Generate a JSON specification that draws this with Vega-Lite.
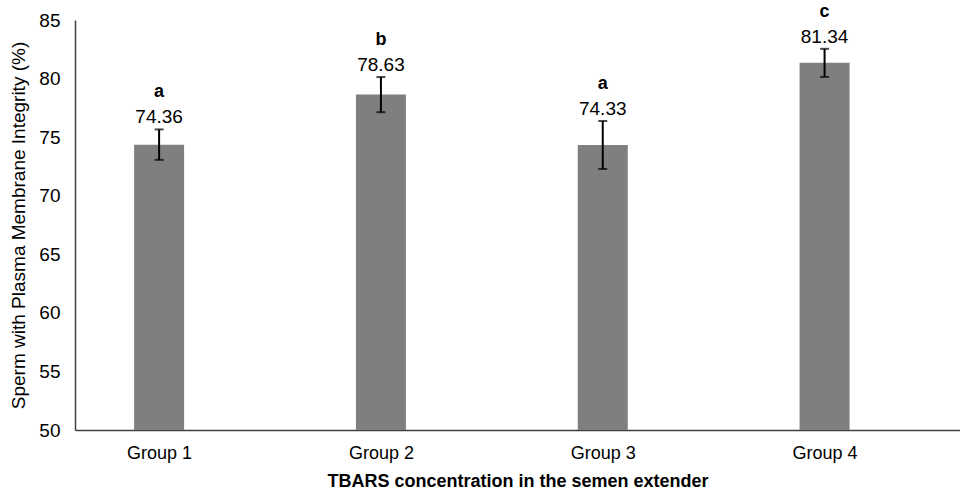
{
  "$schema": "https://vega.github.io/schema/vega-lite/v6.json",
  "width": 885,
  "height": 410,
  "autosize": {"type": "none"},
  "padding": {"left": 75, "top": 20, "right": 0, "bottom": 61},
  "background": "white",
  "config": {"view": {"stroke": null}, "font": "Liberation Sans"},
  "data": {
    "values": [
      {"group": "Group 1", "idx": 1, "mean": 74.36, "sd": 1.3, "sig": "a"},
      {"group": "Group 2", "idx": 2, "mean": 78.63, "sd": 1.5, "sig": "b"},
      {"group": "Group 3", "idx": 3, "mean": 74.33, "sd": 2.05, "sig": "a"},
      {"group": "Group 4", "idx": 4, "mean": 81.34, "sd": 1.2, "sig": "c"}
    ]
  },
  "transform": [
    {"calculate": "datum.mean + datum.sd", "as": "upper"},
    {"calculate": "datum.mean - datum.sd", "as": "lower"}
  ],
  "encoding": {
    "x": {
      "field": "idx",
      "type": "quantitative",
      "scale": {"domain": [0.6434, 4.588], "nice": false, "zero": false},
      "axis": {
        "values": [1, 2, 3, 4],
        "labelExpr": "'Group ' + datum.value",
        "ticks": false,
        "grid": false,
        "domainColor": "#404040",
        "domainWidth": 1.5,
        "labelFontSize": 18,
        "labelColor": "#000",
        "labelPadding": 14,
        "title": "TBARS concentration in the semen extender",
        "titleFontSize": 18,
        "titleFontWeight": "bold",
        "titleColor": "#000",
        "titlePadding": 10
      }
    }
  },
  "layer": [
    {
      "mark": {"type": "bar", "color": "#7f7f7f", "size": 50},
      "encoding": {
        "y": {
          "field": "mean",
          "type": "quantitative",
          "scale": {"domain": [50, 85], "nice": false, "zero": false},
          "axis": {
            "values": [50, 55, 60, 65, 70, 75, 80, 85],
            "ticks": false,
            "grid": false,
            "domainColor": "#404040",
            "domainWidth": 1.5,
            "labelFontSize": 19,
            "labelColor": "#000",
            "labelPadding": 15,
            "title": "Sperm  with Plasma Membrane Integrity (%)",
            "titleFontSize": 19,
            "titleFontWeight": "normal",
            "titleColor": "#000",
            "titlePadding": 10
          }
        },
        "y2": {"datum": 50}
      }
    },
    {
      "mark": {"type": "rule", "color": "black", "strokeWidth": 2},
      "encoding": {
        "y": {"field": "lower", "type": "quantitative"},
        "y2": {"field": "upper"}
      }
    },
    {
      "mark": {"type": "tick", "orient": "horizontal", "color": "black", "thickness": 2, "size": 9},
      "encoding": {"y": {"field": "lower", "type": "quantitative"}}
    },
    {
      "mark": {"type": "tick", "orient": "horizontal", "color": "black", "thickness": 2, "size": 9},
      "encoding": {"y": {"field": "upper", "type": "quantitative"}}
    },
    {
      "mark": {"type": "text", "dy": -6, "baseline": "alphabetic", "fontSize": 19, "color": "#000"},
      "encoding": {
        "y": {"field": "upper", "type": "quantitative"},
        "text": {"field": "mean", "type": "quantitative", "format": ".2f"}
      }
    },
    {
      "mark": {"type": "text", "dy": -32, "baseline": "alphabetic", "fontSize": 18, "fontWeight": "bold", "color": "#000"},
      "encoding": {
        "y": {"field": "upper", "type": "quantitative"},
        "text": {"field": "sig"}
      }
    }
  ]
}
